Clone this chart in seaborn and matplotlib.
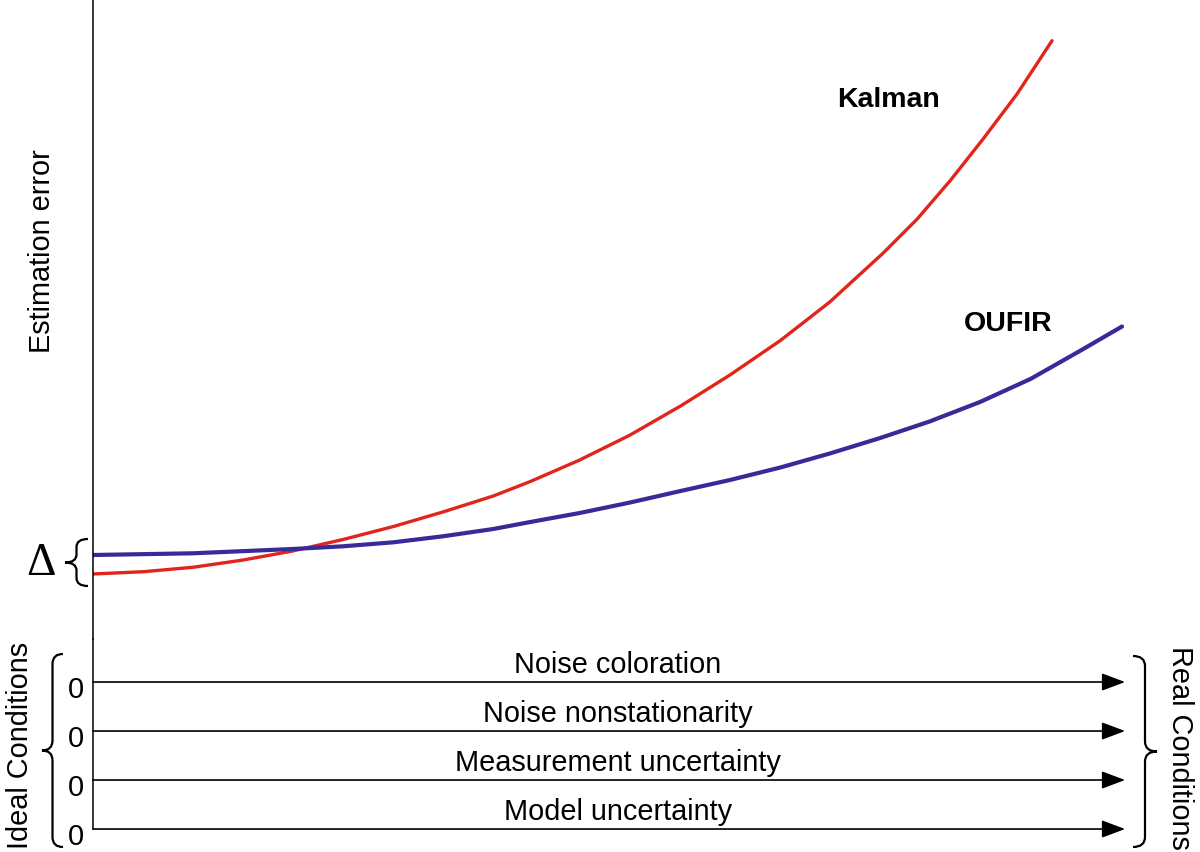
import numpy as np
import pandas as pd
import matplotlib
matplotlib.use("Agg")
import matplotlib.pyplot as plt
import seaborn as sns
from matplotlib import font_manager
from matplotlib.path import Path
from matplotlib.patches import PathPatch
from matplotlib.transforms import Affine2D

# condition level: 0 = ideal conditions, 1 = real conditions
KALMAN_X   = [0.000, 0.049, 0.097, 0.146, 0.194, 0.243, 0.292, 0.340, 0.389, 0.425,
              0.473, 0.522, 0.571, 0.619, 0.668, 0.716, 0.768, 0.801, 0.833, 0.865,
              0.898, 0.932]
KALMAN_ERR = [0.650, 0.673, 0.717, 0.790, 0.880, 0.995, 1.125, 1.270, 1.430, 1.575,
              1.790, 2.040, 2.330, 2.640, 2.985, 3.370, 3.860, 4.200, 4.583, 5.000,
              5.450, 5.983]
OUFIR_X    = [0.000, 0.097, 0.194, 0.243, 0.292, 0.340, 0.389, 0.425, 0.473, 0.522,
              0.571, 0.619, 0.668, 0.716, 0.765, 0.813, 0.862, 0.911, 0.959, 1.000]
OUFIR_ERR  = [0.840, 0.857, 0.900, 0.927, 0.967, 1.027, 1.100, 1.170, 1.260, 1.365,
              1.480, 1.590, 1.715, 1.855, 2.010, 2.175, 2.370, 2.600, 2.880, 3.125]

FACTORS      = ["Noise coloration", "Noise nonstationarity",
                "Measurement uncertainty", "Model uncertainty"]
FACTOR_START = ["0", "0", "0", "0"]
COND_END     = 1.003

RED  = "#E2251C"
BLUE = "#372A99"
W, H = 1200, 853

sns.set_theme(style="white")
plt.rcParams["font.family"] = ["Liberation Sans", "DejaVu Sans"]
plt.rcParams["text.color"] = "black"
FS = 20.8

installed = {f.name for f in font_manager.fontManager.ttflist}
if "Liberation Sans Narrow" in installed:
    BOLD = dict(family=["Liberation Sans Narrow", "Liberation Sans"], fontsize=24)
else:
    BOLD = dict(family=["Liberation Sans", "DejaVu Sans"], fontsize=20.5)

fig = plt.figure(figsize=(W / 100, H / 100), dpi=100)
# pixel coords (origin top-left) -> figure
px = Affine2D().scale(1 / W, -1 / H).translate(0, 1) + fig.transFigure

x0, x1 = 93, 1122          # pixel span of condition 0..1
unit = x1 - x0

# curves panel
ax = fig.add_axes([x0 / W, (H - 640) / H, (W - x0) / W, 640 / H])
df = pd.concat([
    pd.DataFrame({"cond": KALMAN_X, "err": KALMAN_ERR, "filter": "Kalman"}),
    pd.DataFrame({"cond": OUFIR_X, "err": OUFIR_ERR, "filter": "OUFIR"}),
])
sns.lineplot(data=df[df["filter"] == "Kalman"], x="cond", y="err", color=RED,
             lw=2.4, ax=ax, legend=False)
sns.lineplot(data=df[df["filter"] == "OUFIR"], x="cond", y="err", color=BLUE,
             lw=3.0, ax=ax, legend=False)
ax.set(xlim=(0, (W - x0) / unit), ylim=(0, 6.4), xlabel="", ylabel="",
       xticks=[], yticks=[])
for s in ["top", "right", "bottom"]:
    ax.spines[s].set_visible(False)
ax.spines["left"].set_color("black")
ax.spines["left"].set_linewidth(1.1)

ax.text(0.773, 5.40, "Kalman", fontweight="bold", ha="center", va="center", **BOLD)
ax.text(0.889, 3.16, "OUFIR", fontweight="bold", ha="center", va="center", **BOLD)
ax.text(-0.0505, 0.65, "\u0394", fontsize=33, family=["Liberation Serif", "DejaVu Serif"],
        ha="center", va="baseline", clip_on=False)

# conditions panel
ax2 = fig.add_axes([x0 / W, 0, (W - x0) / W, 213 / H])
rows = np.arange(len(FACTORS))
ax2.set(xlim=(0, (W - x0) / unit), ylim=(3.469, -0.878), xticks=[], yticks=[])
for s in ["top", "right", "bottom"]:
    ax2.spines[s].set_visible(False)
ax2.spines["left"].set_color("black")
ax2.spines["left"].set_linewidth(1.1)
ax2.spines["left"].set_bounds(rows[-1], -0.878)
ax2.patch.set_alpha(0)

for i, (name, start) in zip(rows, zip(FACTORS, FACTOR_START)):
    ax2.annotate("", xy=(COND_END, i), xytext=(0, i),
                 arrowprops=dict(arrowstyle="-|>,head_length=0.72,head_width=0.27",
                                 mutation_scale=20, lw=1.2, color="black",
                                 shrinkA=0, shrinkB=0))
    ax2.text(0.51, i - 0.2, name, fontsize=FS, ha="center", va="baseline")
    ax2.text(-0.0165, i + 0.3, start, fontsize=FS, ha="center", va="baseline",
             clip_on=False)


def brace(x_tip, y_top, y_bot, w, r=9, lw=1.6):
    x_arm = x_tip + w
    x_mid = x_tip + w / 2
    ym = (y_top + y_bot) / 2
    verts = [(x_arm, y_top), (x_mid, y_top), (x_mid, y_top + r),
             (x_mid, ym - r), (x_mid, ym), (x_tip, ym),
             (x_mid, ym), (x_mid, ym + r),
             (x_mid, y_bot - r), (x_mid, y_bot), (x_arm, y_bot)]
    codes = [Path.MOVETO, Path.CURVE3, Path.CURVE3, Path.LINETO, Path.CURVE3,
             Path.CURVE3, Path.CURVE3, Path.CURVE3, Path.LINETO, Path.CURVE3,
             Path.CURVE3]
    fig.add_artist(PathPatch(Path(verts, codes), transform=px, fill=False,
                             lw=lw, ec="black"))


brace(65, 540, 587, 23, r=8)
brace(42, 655, 848, 21, r=10)
brace(1157, 657, 848, -24, r=10)

fig.text(42, 251, "Estimation error", transform=px, fontsize=FS, rotation=90,
         ha="center", va="center")
fig.text(20, 745, "Ideal Conditions", transform=px, fontsize=FS, rotation=90,
         ha="center", va="center")
fig.text(1180, 748, "Real Conditions", transform=px, fontsize=FS, rotation=-90,
         ha="center", va="center")

fig.savefig("out.png", dpi=100, facecolor="white")
